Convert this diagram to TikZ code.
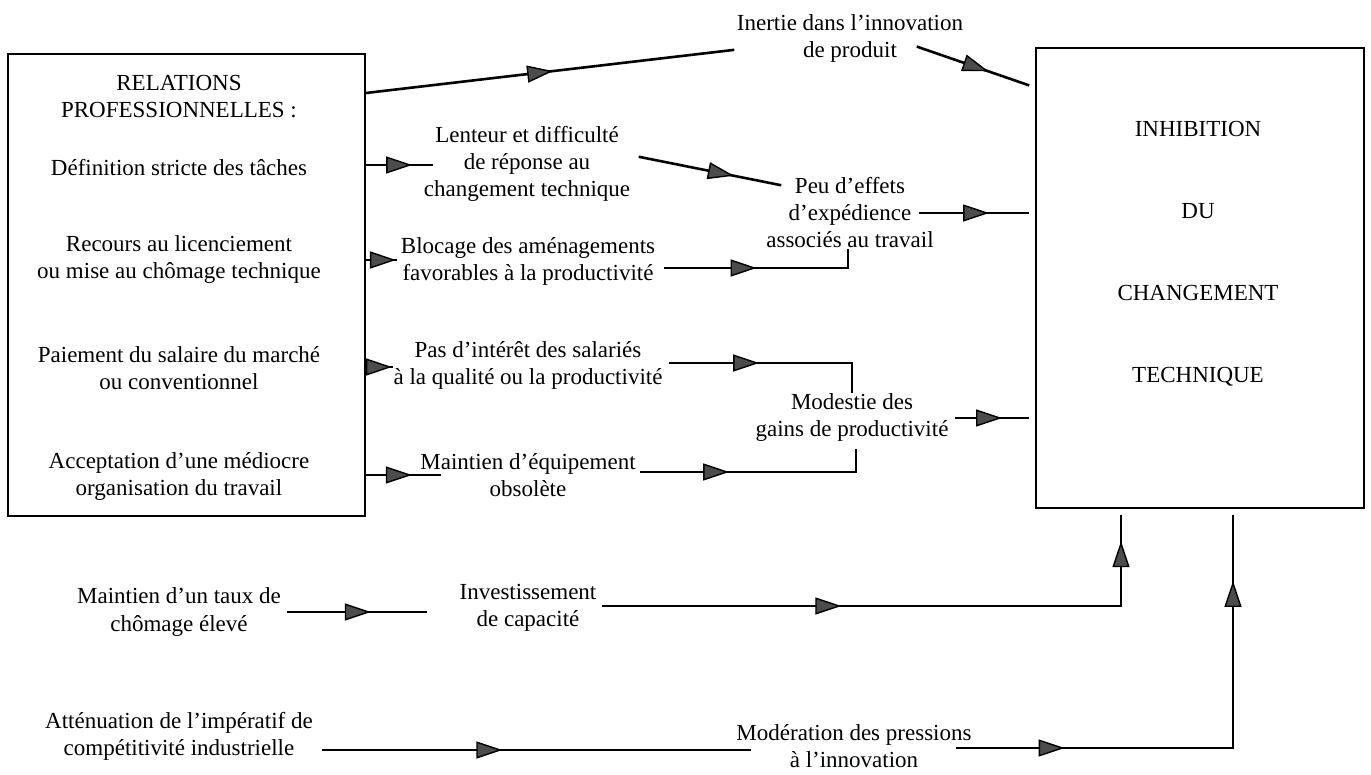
\documentclass[tikz,border=0pt]{standalone}
\usepackage{fontspec}
\setmainfont{Liberation Serif}
\usetikzlibrary{arrows.meta,decorations.markings}
\tikzstyle{box}=[rectangle, draw, line width=0.9pt, inner sep=0pt]
\tikzstyle{txt}=[align=center, inner sep=0pt, font=\fontsize{11.5}{13.5}\selectfont]
\tikzstyle{wire}=[line width=1.3pt, line cap=rect]
\tikzset{flow/.style={wire, postaction={decorate}, decoration={markings, mark=at position #1 with {\arrow{Triangle[length=13pt, width=8.5pt, line width=0.7pt, fill=black!70]}}}}, flow/.default=0.5}

\begin{document}
\begin{tikzpicture}[x=0.5pt, y=-0.5pt]
    \useasboundingbox (0,0) rectangle (1371,775);
    \node[box, minimum width=178.5pt, minimum height=231pt] (rel) at (186.5,285) {};
    \node[box, minimum width=164pt, minimum height=230pt, outer sep=4pt] (inh) at (1200,278) {};
    \node[txt] (r0) at (179,97) {RELATIONS\\PROFESSIONNELLES :};
    \node[txt] (r1) at (179,168) {Définition stricte des tâches};
    \node[txt] (r2) at (179,260) {Recours au licenciement\\ou mise au chômage technique};
    \node[txt] (r3) at (179,368) {Paiement du salaire du marché\\ou conventionnel};
    \node[txt] (r4) at (179,476) {Acceptation d'une médiocre\\organisation du travail};
    \node[txt] (inert) at (850,38) {Inertie dans l'innovation\\de produit};
    \node[txt] (lent) at (527,164) {Lenteur et difficulté\\de réponse au\\changement technique};
    \node[txt] (bloc) at (528,261) {Blocage des aménagements\\favorables à la productivité};
    \node[txt] (inter) at (528,365) {Pas d'intérêt des salariés\\à la qualité ou la productivité};
    \node[txt] (equip) at (528,475) {Maintien d'équipement\\obsolète};
    \node[txt] (peu) at (850,213) {Peu d'effets\\d'expédience\\associés au travail};
    \node[txt] (modest) at (852,418) {Modestie des\\gains de productivité};
    \node[txt, font=\fontsize{11.5}{41}\selectfont] (inhtxt) at (1198,254) {INHIBITION\\DU\\CHANGEMENT\\TECHNIQUE};
    \node[txt] (chom) at (179,612) {Maintien d'un taux de\\chômage élevé};
    \node[txt] (invest) at (528,608) {Investissement\\de capacité};
    \node[txt] (atten) at (179,736) {Atténuation de l'impératif de\\compétitivité industrielle};
    \node[txt] (moder) at (854,746) {Modération des pressions\\à l'innovation};
    \coordinate (p1) at (733,50);
    \coordinate (p2) at (918,47);
    \coordinate (p3) at (432,165);
    \coordinate (p4) at (640,157);
    \coordinate (p5) at (780,185);
    \coordinate (p6) at (920,213);
    \coordinate (p7) at (396,260);
    \coordinate (p8) at (665,268);
    \coordinate (p9) at (848,268);
    \coordinate (p10) at (848,250);
    \coordinate (p11) at (392,367);
    \coordinate (p12) at (670,363);
    \coordinate (p13) at (852,363);
    \coordinate (p14) at (852,392);
    \coordinate (p15) at (956,418);
    \coordinate (p16) at (440,475);
    \coordinate (p17) at (641,472);
    \coordinate (p18) at (856,472);
    \coordinate (p19) at (856,450);
    \coordinate (p20) at (288,612);
    \coordinate (p21) at (426,612);
    \coordinate (p22) at (603,606);
    \coordinate (p23) at (1121,606);
    \coordinate (p24) at (323,750);
    \coordinate (p25) at (750,750);
    \coordinate (p26) at (957,748);
    \coordinate (p27) at (1233,748);
    \draw[flow=0.51] (rel.east |- 0,93) -- (p1);
    \draw[flow=0.64] (p2) -- (inh.west |- 0,85);
    \draw[flow=0.7] (rel.east |- p3) -- (p3);
    \draw[flow=0.67] (p4) -- (p5);
    \draw[flow=0.64] (p6) -- (inh.west |- p6);
    \draw[flow=0.999] (rel.east |- p7) -- (p7);
    \draw[flow=0.5] (p8) -- (p9);
    \draw[wire] (p9) -- (p10);
    \draw[flow=0.999] (rel.east |- p11) -- (p11);
    \draw[flow=0.49] (p12) -- (p13);
    \draw[wire] (p13) -- (p14);
    \draw[flow=0.64] (p15) -- (inh.west |- p15);
    \draw[flow=0.62] (rel.east |- p16) -- (p16);
    \draw[flow=0.41] (p17) -- (p18);
    \draw[wire] (p18) -- (p19);
    \draw[flow=0.6] (p20) -- (p21);
    \draw[flow=0.46] (p22) -- (p23);
    \draw[flow=0.72] (p23) -- (inh.south -| p23);
    \draw[flow=0.42] (p24) -- (p25);
    \draw[flow=0.39] (p26) -- (p27);
    \draw[flow=0.72] (p27) -- (inh.south -| p27);
\end{tikzpicture}
\end{document}
